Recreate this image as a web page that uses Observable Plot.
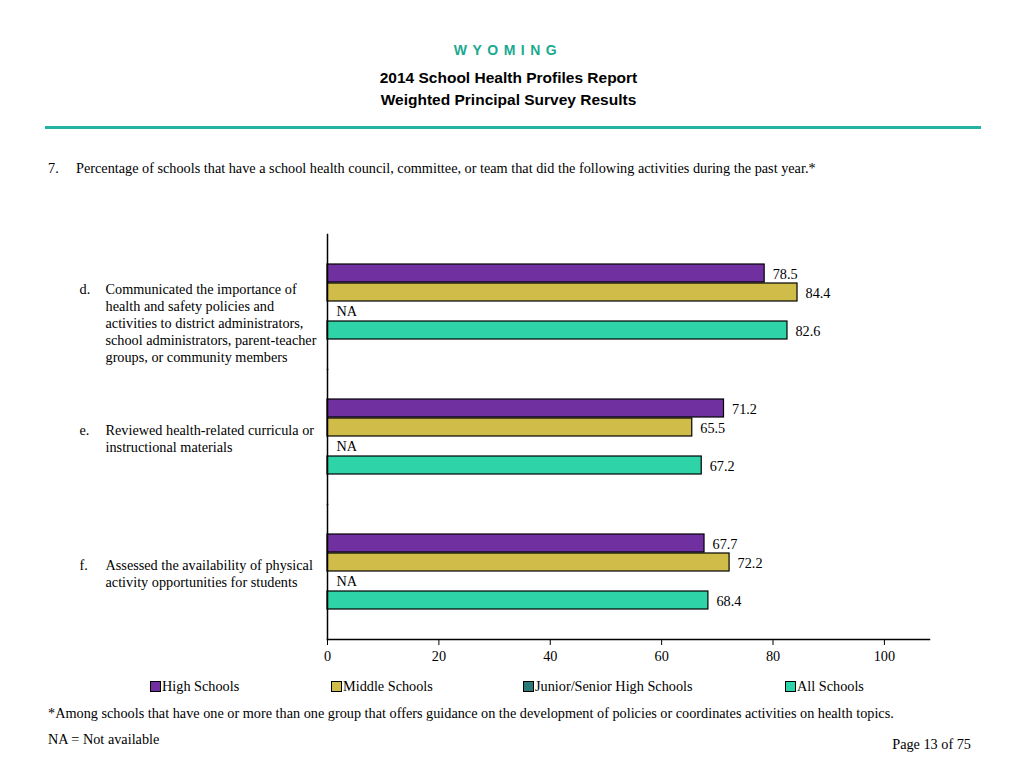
<!DOCTYPE html>
<html>
<head>
<meta charset="utf-8">
<script src="https://cdn.jsdelivr.net/npm/d3@7"></script>
<script src="https://cdn.jsdelivr.net/npm/@observablehq/plot@0.6"></script>
<style>
  html, body { margin: 0; padding: 0; background: #fff; }
  #page { position: relative; width: 1024px; height: 768px; overflow: hidden; font-family: "Liberation Serif", serif; color: #000; }
  #chart { position: absolute; left: 0; top: 0; }
  .abs { position: absolute; white-space: nowrap; }
  .state { left: 0; width: 1024px; top: 40px; text-align: center; font-family: "Liberation Sans", Arial, sans-serif; font-weight: bold; font-size: 14px; letter-spacing: 5.5px; padding-right: 8px; box-sizing: border-box; color: #1aa98f; line-height: 20px; }
  .title { left: 0; width: 1017px; top: 67px; text-align: center; font-family: "Liberation Sans", Arial, sans-serif; font-weight: bold; font-size: 15.5px; line-height: 22px; }
  .rule { left: 45px; top: 126px; width: 936px; height: 3px; background: #22b3a3; }
  .txt { font-size: 14.25px; line-height: 16px; }
  .legend-item { display: flex; align-items: center; font-size: 14.25px; line-height: 16px; }
  .sw { width: 9px; height: 9px; border: 1px solid #000; margin-right: 1px; }
</style>
</head>
<body>
<div id="page">
  <div id="chart"></div>
  <div class="abs state">WYOMING</div>
  <div class="abs title">2014 School Health Profiles Report<br>Weighted Principal Survey Results</div>
  <div class="abs rule"></div>
  <div class="abs txt" style="left:48px; top:160px;">7.</div>
  <div class="abs txt" style="left:76px; top:160px;">Percentage of schools that have a school health council, committee, or team that did the following activities during the past year.*</div>
  <div id="legend"></div>
  <div class="abs txt" style="left:48px; top:705px;">*Among schools that have one or more than one group that offers guidance on the development of policies or coordinates activities on health topics.</div>
  <div class="abs txt" style="left:48px; top:731px;">NA = Not available</div>
  <div class="abs txt" style="right:53px; top:736px;">Page 13 of 75</div>
</div>
<script>
// ---- data ----
const items = ["d.", "e.", "f."];
const itemLabels = [
  "Communicated the importance of\nhealth and safety policies and\nactivities to district administrators,\nschool administrators, parent-teacher\ngroups, or community members",
  "Reviewed health-related curricula or\ninstructional materials",
  "Assessed the availability of physical\nactivity opportunities for students"
];
const series = ["High Schools", "Middle Schools", "Junior/Senior High Schools", "All Schools"];
const highSchools = [78.5, 71.2, 67.7];
const middleSchools = [84.4, 65.5, 72.2];
const juniorSeniorHighSchools = [null, null, null];
const allSchools = [82.6, 67.2, 68.4];
const colors = ["#7030a0", "#d0bc48", "#2b7a78", "#2ed3a7"];
const xTicks = [0, 20, 40, 60, 80, 100];

const seriesValues = [highSchools, middleSchools, juniorSeniorHighSchools, allSchools];
const rows = items.flatMap((item, i) => series.map((s, j) => ({item, series: s, value: seriesValues[j][i]})));
const present = rows.filter(d => d.value != null);
const missing = rows.filter(d => d.value == null);
const labels = items.map((item, i) => ({item, label: itemLabels[i], lines: itemLabels[i].split("\n").length}));
const longLabels = labels.filter(d => d.lines > 2);
const shortLabels = labels.filter(d => d.lines <= 2);

const FS = 14.25;
const labelOpts = {fy: "item", frameAnchor: "top-left", lineAnchor: "top", textAnchor: "start", lineHeight: 17 / FS, fill: "#000", fontSize: FS};

const chart = Plot.plot({
  width: 1024,
  height: 680,
  marginLeft: 327,
  marginRight: 95,
  marginTop: 233,
  marginBottom: 41,
  x: {domain: [0, 108.1]},
  y: {domain: series, axis: null, paddingInner: 0.03, paddingOuter: 1.47},
  fy: {domain: items, axis: null, padding: 0},
  color: {domain: series, range: colors},
  style: {fontFamily: "Liberation Serif", fontSize: FS + "px", background: "none", color: "#000", overflow: "visible"},
  marks: [
    Plot.barX(present, {fy: "item", y: "series", x: "value", fill: "series", stroke: "#000", strokeWidth: 1.2}),
    Plot.text(present, {fy: "item", y: "series", x: "value", text: d => d.value.toFixed(1), textAnchor: "start", dx: 8, dy: 1, fill: "#000", fontSize: FS}),
    Plot.text(missing, {fy: "item", y: "series", x: () => 0, text: () => "NA", textAnchor: "start", dx: 9, fill: "#000", fontSize: FS}),
    Plot.frame({anchor: "left", stroke: "#000", strokeWidth: 1.5}),
    Plot.frame({anchor: "bottom", facetAnchor: "bottom", stroke: "#000", strokeWidth: 1.5}),
    Plot.axisX({ticks: xTicks, tickSize: 6, tickPadding: 5, fontSize: FS, stroke: "#000", fill: "#000", tickFormat: d => String(d), label: null}),
    Plot.text(longLabels, {...labelOpts, text: "item", dx: -248, dy: 47}),
    Plot.text(longLabels, {...labelOpts, text: "label", dx: -222, dy: 47}),
    Plot.text(shortLabels, {...labelOpts, text: "item", dx: -248, dy: 53}),
    Plot.text(shortLabels, {...labelOpts, text: "label", dx: -222, dy: 53})
  ]
});
document.getElementById("chart").appendChild(chart);

// legend
const legendX = [150, 331, 523, 785];
const legend = document.getElementById("legend");
series.forEach((s, i) => {
  const el = document.createElement("div");
  el.className = "abs legend-item";
  el.style.left = legendX[i] + "px";
  el.style.top = "678px";
  el.innerHTML = `<span class="sw" style="background:${colors[i]}"></span><span>${s}</span>`;
  legend.appendChild(el);
});
</script>
</body>
</html>
